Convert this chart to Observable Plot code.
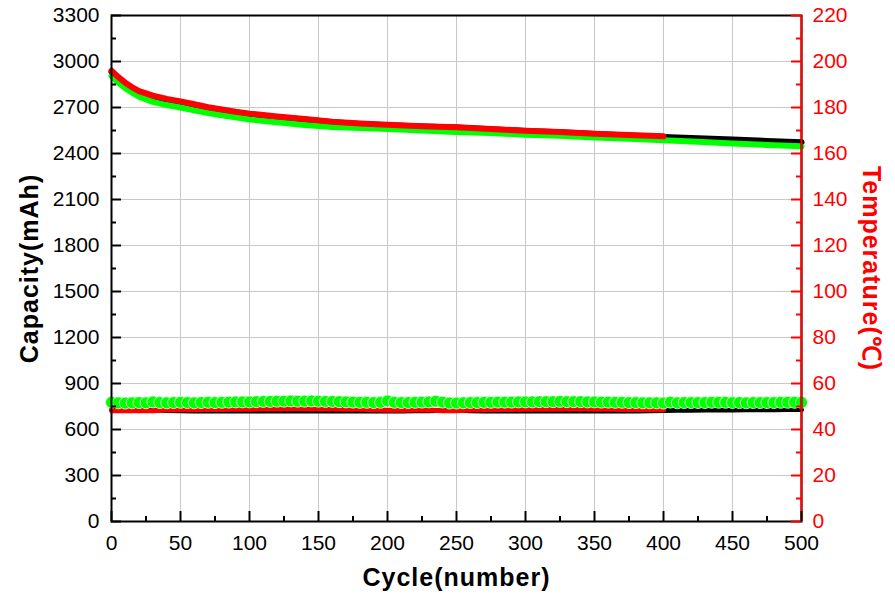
<!DOCTYPE html>
<html>
<head>
<meta charset="utf-8">
<script src="https://cdn.jsdelivr.net/npm/d3@7"></script>
<script src="https://cdn.jsdelivr.net/npm/@observablehq/plot@0.6"></script>
<style>
  html, body { margin: 0; padding: 0; background: #fff; }
  svg g[font-weight="bold"] text { letter-spacing: 1px; }
</style>
</head>
<body>
<div id="chart"></div>
<script>
// ---- Data ----
const capCycles = [0,5,10,15,20,30,40,50,60,70,80,90,100,120,140,160,180,200,225,250,275,300,325,350,375,400,425,450,475,500];
const capRed   = [2940,2898,2862,2832,2807,2777,2756,2740,2721,2702,2687,2672,2660,2641,2625,2607,2596,2588,2578,2571,2560,2548,2540,2529,2520,2512];
const capBlack = [2932,2890,2855,2826,2801,2771,2750,2734,2716,2698,2683,2668,2656,2637,2621,2604,2593,2585,2576,2569,2558,2547,2538,2528,2518,2508,2499,2491,2482,2473];
const capGreen = [2905,2862,2826,2797,2771,2737,2716,2700,2681,2664,2650,2636,2622,2604,2586,2573,2566,2560,2550,2540,2533,2523,2515,2505,2497,2486,2476,2466,2456,2447];

const tempCyclesGreen = d3.range(0, 501, 5);
const tempGreen = [51.8,51.6,51.5,51.6,51.7,51.6,52.0,51.7,51.6,51.7,51.8,51.7,51.6,51.7,51.8,51.7,51.8,51.9,52.0,52.0,
  52.0,52.1,52.2,52.2,52.3,52.3,52.4,52.3,52.3,52.4,52.3,52.2,52.2,52.1,52.0,51.9,51.8,51.8,51.7,51.8,
  52.4,51.8,51.7,51.7,51.8,51.9,52.0,52.3,51.9,51.5,51.5,51.6,51.7,51.7,51.8,51.8,51.9,51.9,51.9,52.0,
  52.0,52.0,52.1,52.1,52.1,52.2,52.1,52.1,52.1,52.0,52.0,51.9,51.9,51.8,51.8,51.7,51.7,51.6,51.6,51.6,
  51.5,51.9,51.6,51.7,51.7,51.7,51.7,51.8,51.8,51.8,51.7,51.7,51.6,51.7,51.7,51.7,51.7,51.8,51.8,51.8,51.8];
const tempCyclesRed = d3.range(0, 401, 10);
const tempRed = [48.2,48.1,48.1,48.2,48.5,48.6,48.6,48.7,48.7,48.8,48.8,48.9,48.9,49.0,49.0,48.9,48.9,48.8,48.8,48.6,
  48.4,48.4,48.5,48.5,48.2,48.2,48.5,48.6,48.7,48.7,48.8,48.8,48.8,48.9,48.9,48.8,48.8,48.7,48.7,48.6,48.6];
const tempCyclesBlack = d3.range(0, 501, 10);
const tempBlack = [48.8,48.7,48.6,48.5,48.3,48.1,48.0,48.0,48.0,48.0,48.0,48.0,48.0,48.0,48.0,48.0,48.0,48.0,48.0,48.0,
  48.0,48.0,48.1,48.2,48.4,48.4,48.1,48.0,48.0,48.0,48.0,48.0,48.0,48.0,48.0,48.0,48.0,48.0,48.0,48.1,
  48.3,48.4,48.4,48.5,48.5,48.5,48.6,48.6,48.6,48.7,48.7];

const yMajor = [0,300,600,900,1200,1500,1800,2100,2400,2700,3000,3300];
const yMinor = [150,450,750,1050,1350,1650,1950,2250,2550,2850,3150];
const tMajor = [0,20,40,60,80,100,120,140,160,180,200,220];
const tMinor = [10,30,50,70,90,110,130,150,170,190,210];
const xMajor = [0,50,100,150,200,250,300,350,400,450,500];
const xMinor = [25,75,125,175,225,275,325,375,425,475];
const yGrid = [300,600,900,1200,1500,1800,2100,2400,2700,3000];
const xGrid = [50,100,150,200,250,300,350,400,450];

const TSCALE = 3300 / 220; // temperature axis maps 0–220 onto 0–3300

// ---- Tables built from arrays ----
const mk = (xs, ys) => ys.map((v, i) => ({x: xs[i], y: v}));
const redCap = mk(capCycles, capRed);
const blackCap = mk(capCycles, capBlack);
const greenCap = mk(capCycles, capGreen);
const greenT = mk(tempCyclesGreen, tempGreen.map(t => t * TSCALE));
const redT = mk(tempCyclesRed, tempRed.map(t => t * TSCALE));
const blackT = mk(tempCyclesBlack, tempBlack.map(t => t * TSCALE));

const chart = Plot.plot({
  width: 895,
  height: 601,
  marginLeft: 111,
  marginRight: 94,
  marginTop: 15,
  marginBottom: 80,
  x: {domain: [0, 500]},
  y: {domain: [0, 3300]},
  style: {fontFamily: "'Liberation Sans', Arial, sans-serif", fontSize: "21px", background: "white", color: "black"},
  marks: [
    Plot.ruleX(xGrid, {stroke: "#c8c8c8", strokeWidth: 1}),
    Plot.ruleY(yGrid, {stroke: "#c8c8c8", strokeWidth: 1}),
    // capacity
    Plot.line(blackCap, {x: "x", y: "y", stroke: "black", strokeWidth: 6}),
    Plot.line(greenCap, {x: "x", y: "y", stroke: "#00ff00", strokeWidth: 6}),
    Plot.line(redCap, {x: "x", y: "y", stroke: "#ff0000", strokeWidth: 6}),
    // temperature
    Plot.line(blackT, {x: "x", y: "y", stroke: "black", strokeWidth: 5}),
    Plot.line(redT, {x: "x", y: "y", stroke: "#ff0000", strokeWidth: 5}),
    Plot.line(greenT, {x: "x", y: "y", stroke: "#00ff00", strokeWidth: 11}),
    Plot.dot(greenT, {x: "x", y: "y", r: 6, fill: "#00ff00", stroke: "#f0fff0", strokeWidth: 0.8}),
    // frame
    Plot.frame({stroke: "black", strokeWidth: 2}),
    Plot.ruleX([500], {stroke: "#ff0000", strokeWidth: 2}),
    // inward ticks
    Plot.tickY(yMajor, {y: d => d, insetRight: 680, stroke: "black", strokeWidth: 2}),
    Plot.tickY(yMinor, {y: d => d, insetRight: 685, stroke: "black", strokeWidth: 2}),
    Plot.tickY(tMajor, {y: d => d * TSCALE, insetLeft: 680, stroke: "#ff0000", strokeWidth: 2}),
    Plot.tickY(tMinor, {y: d => d * TSCALE, insetLeft: 685, stroke: "#ff0000", strokeWidth: 2}),
    Plot.tickX(xMajor, {x: d => d, insetTop: 496, stroke: "black", strokeWidth: 2}),
    Plot.tickX(xMinor, {x: d => d, insetTop: 501, stroke: "black", strokeWidth: 2}),
    // axis labels
    Plot.axisY(yMajor, {anchor: "left", tickSize: 0, tickPadding: 12, tickFormat: d => String(d), label: null, fontSize: 21}),
    Plot.axisY(tMajor.map(t => t * TSCALE), {anchor: "right", tickSize: 0, tickPadding: 11, tickFormat: d => String(Math.round(d / TSCALE)), label: null, fill: "#ff0000", fontSize: 21}),
    Plot.axisX(xMajor, {anchor: "bottom", tickSize: 0, tickPadding: 14, tickFormat: d => String(d), label: null, fontSize: 21}),
    // titles
    Plot.text(["Cycle(number)"], {frameAnchor: "bottom", dy: 64, text: d => d, textAnchor: "middle", fontSize: 25, fontWeight: "bold", fill: "black"}),
    Plot.text(["Capacity(mAh)"], {frameAnchor: "left", dx: -82, rotate: -90, text: d => d, textAnchor: "middle", fontSize: 25, fontWeight: "bold", fill: "black"}),
    Plot.text(["Temperature(℃)"], {frameAnchor: "right", dx: 69, rotate: 90, text: d => d, textAnchor: "middle", fontSize: 25, fontWeight: "bold", fill: "#ff0000"})
  ]
});

document.getElementById("chart").appendChild(chart);
</script>
</body>
</html>
